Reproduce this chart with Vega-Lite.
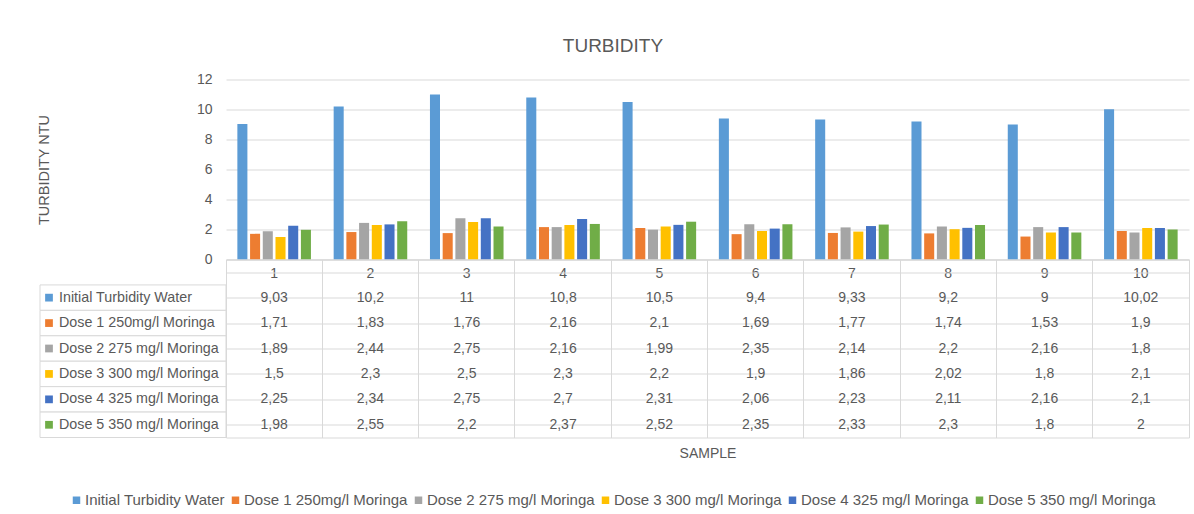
{
  "$schema": "https://vega.github.io/schema/vega-lite/v6.json",
  "padding": {"left": 36, "top": 36.5, "right": 0, "bottom": 0},
  "title": {"text": "TURBIDITY", "fontSize": 19, "fontWeight": "normal", "color": "#595959", "anchor": "middle", "offset": 17},
  "data": {"values": [
    {"sample": 1, "series": "Initial Turbidity Water", "value": 9.03},
    {"sample": 2, "series": "Initial Turbidity Water", "value": 10.2},
    {"sample": 3, "series": "Initial Turbidity Water", "value": 11},
    {"sample": 4, "series": "Initial Turbidity Water", "value": 10.8},
    {"sample": 5, "series": "Initial Turbidity Water", "value": 10.5},
    {"sample": 6, "series": "Initial Turbidity Water", "value": 9.4},
    {"sample": 7, "series": "Initial Turbidity Water", "value": 9.33},
    {"sample": 8, "series": "Initial Turbidity Water", "value": 9.2},
    {"sample": 9, "series": "Initial Turbidity Water", "value": 9},
    {"sample": 10, "series": "Initial Turbidity Water", "value": 10.02},
    {"sample": 1, "series": "Dose 1 250mg/l Moringa", "value": 1.71},
    {"sample": 2, "series": "Dose 1 250mg/l Moringa", "value": 1.83},
    {"sample": 3, "series": "Dose 1 250mg/l Moringa", "value": 1.76},
    {"sample": 4, "series": "Dose 1 250mg/l Moringa", "value": 2.16},
    {"sample": 5, "series": "Dose 1 250mg/l Moringa", "value": 2.1},
    {"sample": 6, "series": "Dose 1 250mg/l Moringa", "value": 1.69},
    {"sample": 7, "series": "Dose 1 250mg/l Moringa", "value": 1.77},
    {"sample": 8, "series": "Dose 1 250mg/l Moringa", "value": 1.74},
    {"sample": 9, "series": "Dose 1 250mg/l Moringa", "value": 1.53},
    {"sample": 10, "series": "Dose 1 250mg/l Moringa", "value": 1.9},
    {"sample": 1, "series": "Dose 2 275 mg/l Moringa", "value": 1.89},
    {"sample": 2, "series": "Dose 2 275 mg/l Moringa", "value": 2.44},
    {"sample": 3, "series": "Dose 2 275 mg/l Moringa", "value": 2.75},
    {"sample": 4, "series": "Dose 2 275 mg/l Moringa", "value": 2.16},
    {"sample": 5, "series": "Dose 2 275 mg/l Moringa", "value": 1.99},
    {"sample": 6, "series": "Dose 2 275 mg/l Moringa", "value": 2.35},
    {"sample": 7, "series": "Dose 2 275 mg/l Moringa", "value": 2.14},
    {"sample": 8, "series": "Dose 2 275 mg/l Moringa", "value": 2.2},
    {"sample": 9, "series": "Dose 2 275 mg/l Moringa", "value": 2.16},
    {"sample": 10, "series": "Dose 2 275 mg/l Moringa", "value": 1.8},
    {"sample": 1, "series": "Dose 3 300 mg/l Moringa", "value": 1.5},
    {"sample": 2, "series": "Dose 3 300 mg/l Moringa", "value": 2.3},
    {"sample": 3, "series": "Dose 3 300 mg/l Moringa", "value": 2.5},
    {"sample": 4, "series": "Dose 3 300 mg/l Moringa", "value": 2.3},
    {"sample": 5, "series": "Dose 3 300 mg/l Moringa", "value": 2.2},
    {"sample": 6, "series": "Dose 3 300 mg/l Moringa", "value": 1.9},
    {"sample": 7, "series": "Dose 3 300 mg/l Moringa", "value": 1.86},
    {"sample": 8, "series": "Dose 3 300 mg/l Moringa", "value": 2.02},
    {"sample": 9, "series": "Dose 3 300 mg/l Moringa", "value": 1.8},
    {"sample": 10, "series": "Dose 3 300 mg/l Moringa", "value": 2.1},
    {"sample": 1, "series": "Dose 4 325 mg/l Moringa", "value": 2.25},
    {"sample": 2, "series": "Dose 4 325 mg/l Moringa", "value": 2.34},
    {"sample": 3, "series": "Dose 4 325 mg/l Moringa", "value": 2.75},
    {"sample": 4, "series": "Dose 4 325 mg/l Moringa", "value": 2.7},
    {"sample": 5, "series": "Dose 4 325 mg/l Moringa", "value": 2.31},
    {"sample": 6, "series": "Dose 4 325 mg/l Moringa", "value": 2.06},
    {"sample": 7, "series": "Dose 4 325 mg/l Moringa", "value": 2.23},
    {"sample": 8, "series": "Dose 4 325 mg/l Moringa", "value": 2.11},
    {"sample": 9, "series": "Dose 4 325 mg/l Moringa", "value": 2.16},
    {"sample": 10, "series": "Dose 4 325 mg/l Moringa", "value": 2.1},
    {"sample": 1, "series": "Dose 5 350 mg/l Moringa", "value": 1.98},
    {"sample": 2, "series": "Dose 5 350 mg/l Moringa", "value": 2.55},
    {"sample": 3, "series": "Dose 5 350 mg/l Moringa", "value": 2.2},
    {"sample": 4, "series": "Dose 5 350 mg/l Moringa", "value": 2.37},
    {"sample": 5, "series": "Dose 5 350 mg/l Moringa", "value": 2.52},
    {"sample": 6, "series": "Dose 5 350 mg/l Moringa", "value": 2.35},
    {"sample": 7, "series": "Dose 5 350 mg/l Moringa", "value": 2.33},
    {"sample": 8, "series": "Dose 5 350 mg/l Moringa", "value": 2.3},
    {"sample": 9, "series": "Dose 5 350 mg/l Moringa", "value": 1.8},
    {"sample": 10, "series": "Dose 5 350 mg/l Moringa", "value": 2}
  ]},
  "columns": 2,
  "spacing": 0,
  "bounds": "flush",
  "resolve": {"scale": {"x": "independent", "y": "independent", "color": "shared"}},
  "concat": [
    {
      "width": 186, "height": 180,
      "mark": {"type": "text", "text": ""},
      "encoding": {}
    },
    {
      "width": 963, "height": 180,
      "mark": {"type": "bar"},
      "encoding": {
        "x": {"field": "sample", "type": "ordinal",
              "scale": {"type": "band", "paddingInner": 0.236, "paddingOuter": 0.118},
              "axis": {"title": null, "labelAngle": 0, "ticks": false, "labelPadding": 7, "labelFontSize": 14, "labelColor": "#595959", "domainColor": "#d9d9d9", "grid": false}},
        "xOffset": {"field": "series", "type": "nominal",
              "sort": ["Initial Turbidity Water", "Dose 1 250mg/l Moringa", "Dose 2 275 mg/l Moringa", "Dose 3 300 mg/l Moringa", "Dose 4 325 mg/l Moringa", "Dose 5 350 mg/l Moringa"],
              "scale": {"paddingInner": 0.21, "paddingOuter": 0}},
        "y": {"field": "value", "type": "quantitative",
              "scale": {"domain": [0, 12]},
              "axis": {"values": [0, 2, 4, 6, 8, 10, 12], "title": "TURBIDITY NTU", "titleFontSize": 14.5, "titleFontWeight": "normal", "titleColor": "#595959", "titlePadding": 145, "labelFontSize": 14, "labelColor": "#595959", "labelPadding": 14, "ticks": false, "domain": false, "gridColor": "#d9d9d9"}},
        "color": {"field": "series", "type": "nominal",
              "scale": {"domain": ["Initial Turbidity Water", "Dose 1 250mg/l Moringa", "Dose 2 275 mg/l Moringa", "Dose 3 300 mg/l Moringa", "Dose 4 325 mg/l Moringa", "Dose 5 350 mg/l Moringa"],
                        "range": ["#5B9BD5", "#ED7D31", "#A5A5A5", "#FFC000", "#4472C4", "#70AD47"]},
              "legend": {"title": null}}
      }
    },
    {
      "width": 186, "height": 178,
      "transform": [{"filter": "datum.sample == 1"}],
      "layer": [
        {
          "mark": {"type": "rect", "fill": "white", "stroke": "#d9d9d9", "strokeWidth": 1},
          "encoding": {
            "y": {"field": "series", "type": "nominal",
                  "scale": {"domain": [" ", "Initial Turbidity Water", "Dose 1 250mg/l Moringa", "Dose 2 275 mg/l Moringa", "Dose 3 300 mg/l Moringa", "Dose 4 325 mg/l Moringa", "Dose 5 350 mg/l Moringa"], "paddingInner": 0, "paddingOuter": 0},
                  "axis": null}
          }
        },
        {
          "mark": {"type": "square", "size": 60, "xOffset": 9, "strokeWidth": 0, "opacity": 1},
          "encoding": {
            "x": {"datum": "c", "type": "nominal", "scale": {"type": "band", "paddingInner": 0, "paddingOuter": 0}, "bandPosition": 0, "axis": null},
            "y": {"field": "series", "type": "nominal", "axis": null},
            "color": {"field": "series", "type": "nominal", "legend": {"title": null}}
          }
        },
        {
          "mark": {"type": "text", "align": "left", "dx": 19, "fontSize": 14.3, "color": "#595959"},
          "encoding": {
            "x": {"datum": "c", "type": "nominal", "bandPosition": 0, "axis": null},
            "y": {"field": "series", "type": "nominal", "axis": null},
            "text": {"field": "series"}
          }
        }
      ]
    },
    {
      "width": 963, "height": 178,
      "view": {"stroke": "#d9d9d9", "strokeWidth": 1},
      "mark": {"type": "text", "fontSize": 14, "color": "#595959"},
      "encoding": {
        "x": {"field": "sample", "type": "ordinal",
              "scale": {"type": "band", "paddingInner": 0, "paddingOuter": 0},
              "axis": {"title": "SAMPLE", "labels": false, "ticks": false, "domain": false, "grid": true, "bandPosition": 0, "gridColor": "#d9d9d9", "titlePadding": 9, "minExtent": 0, "titleFontSize": 14, "titleFontWeight": "normal", "titleColor": "#595959"}},
        "y": {"field": "series", "type": "nominal",
              "scale": {"domain": [" ", "Initial Turbidity Water", "Dose 1 250mg/l Moringa", "Dose 2 275 mg/l Moringa", "Dose 3 300 mg/l Moringa", "Dose 4 325 mg/l Moringa", "Dose 5 350 mg/l Moringa"], "paddingInner": 0, "paddingOuter": 0},
              "axis": {"title": null, "labels": false, "ticks": false, "domain": false, "grid": true, "bandPosition": 0, "gridColor": "#d9d9d9", "minExtent": 0}},
        "text": {"field": "value", "type": "quantitative", "format": "~g"}
      }
    }
  ],
  "config": {
    "font": "Liberation Sans",
    "view": {"stroke": null},
    "locale": {"number": {"decimal": ",", "thousands": ".", "grouping": [3], "currency": ["", " €"]}},
    "legend": {"orient": "bottom", "direction": "horizontal", "symbolType": "square", "symbolSize": 56, "symbolStrokeWidth": 0, "labelFontSize": 15, "labelColor": "#595959", "columnPadding": 3, "labelOffset": 1, "offset": 31, "labelLimit": 400, "layout": {"anchor": "middle"}}
  }
}
